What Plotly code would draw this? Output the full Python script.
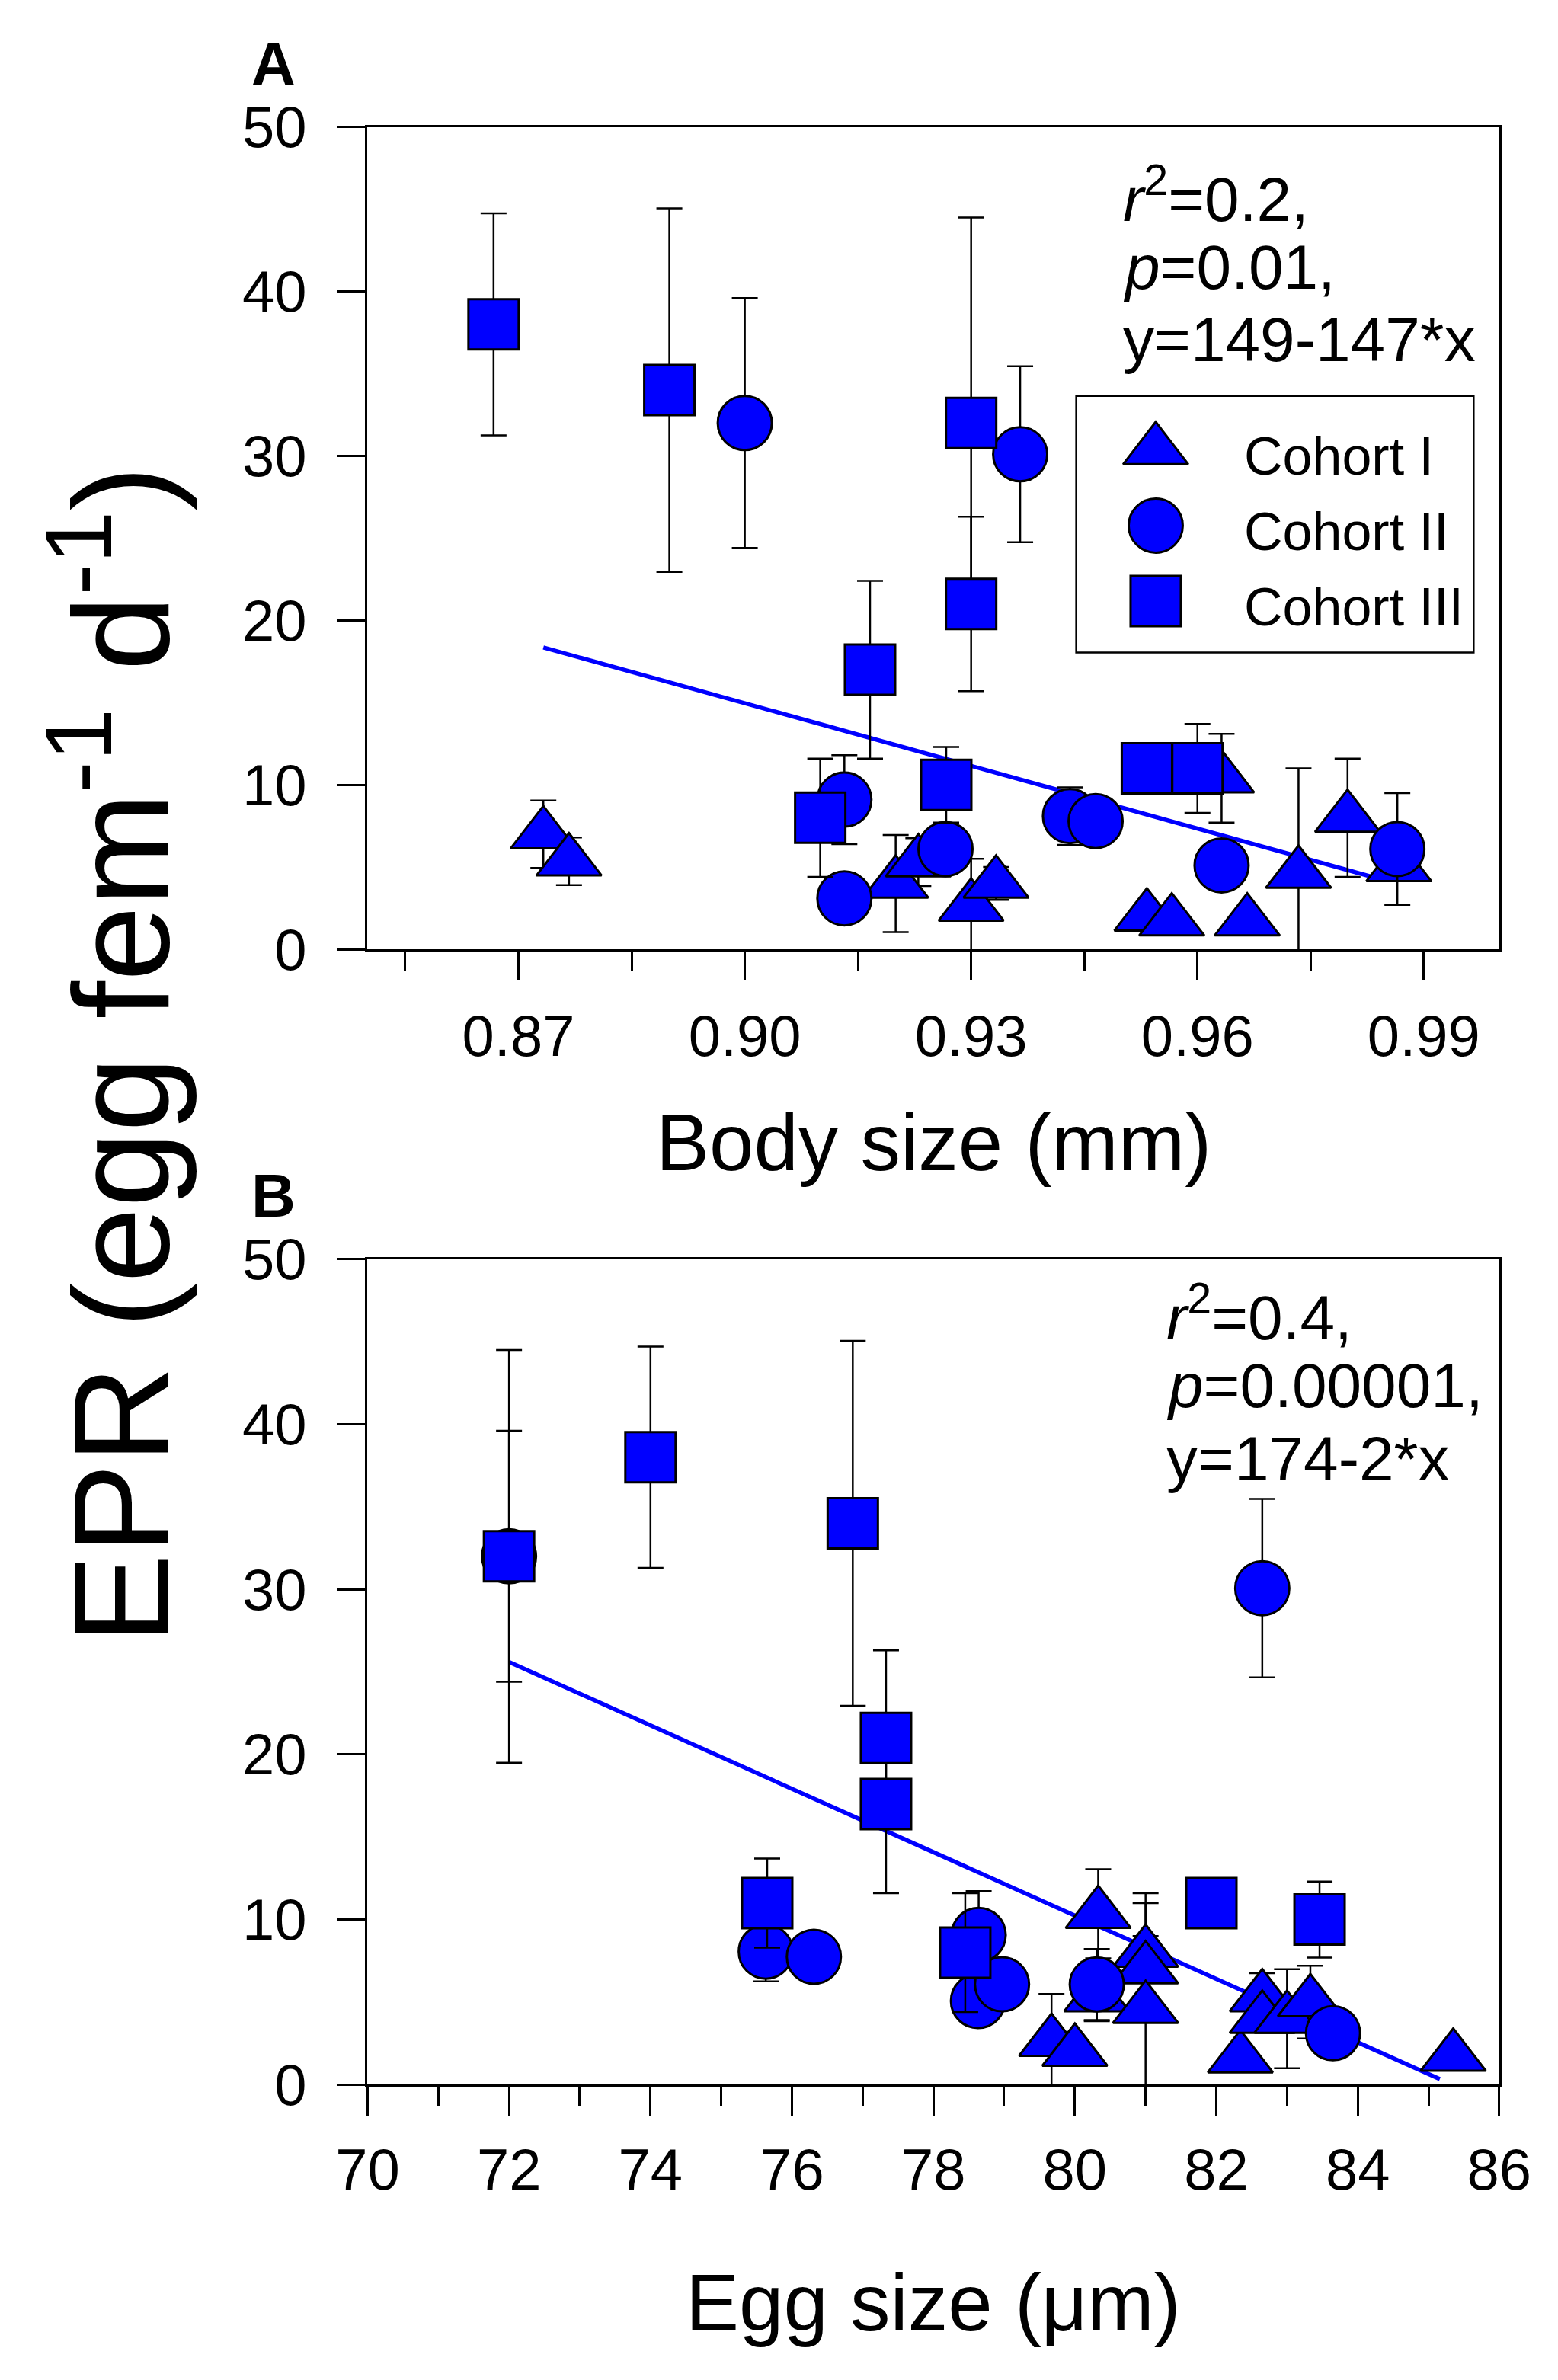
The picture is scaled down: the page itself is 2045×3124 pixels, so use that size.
import plotly.graph_objects as go

W, H = 2045, 3124
BLUE = "rgb(0,0,255)"
FONT = "Liberation Sans, Arial, sans-serif"

# ---- panel A: body size (mm) vs EPR ----
a_c1_x = [0.8733, 0.8767, 0.920, 0.923, 0.930, 0.9333, 0.9533, 0.9566, 0.9632, 0.9666, 0.9734, 0.9799, 0.9867]
a_c1_y = [7.0, 5.35, 4.0, 5.3, 2.6, 4.0, 2.0, 1.7, 10.4, 1.7, 4.6, 8.0, 5.0]
a_c1_e = [2.05, 1.45, 2.95, 1.45, 2.9, 1.0, 0, 0, 2.7, 0, 6.4, 3.6, 0]

a_c2_x = [0.900, 0.9132, 0.9132, 0.9266, 0.9365, 0.9431, 0.9465, 0.9632, 0.9865]
a_c2_y = [32.0, 9.1, 3.1, 6.1, 30.1, 8.1, 7.8, 5.1, 6.1]
a_c2_e = [7.6, 2.7, 0, 1.55, 5.35, 1.75, 0, 0, 3.4]

a_c3_x = [0.8667, 0.890, 0.910, 0.9166, 0.9267, 0.930, 0.930, 0.9533, 0.960]
a_c3_y = [38.0, 34.0, 8.0, 17.0, 10.0, 32.0, 21.0, 11.0, 11.0]
a_c3_e = [6.75, 11.05, 3.6, 5.4, 2.3, 12.5, 5.3, 0, 2.7]

a_fit_x = [0.8733, 0.9836]
a_fit_y = [18.35, 4.35]

# ---- panel B: egg size (um) vs EPR ----
b_c1_x = [79.67, 80.0, 80.33, 80.31, 81.0, 81.0, 81.0, 82.34, 82.65, 82.65, 83.0, 83.33, 85.35]
b_c1_y = [2.6, 2.0, 10.35, 5.3, 8.0, 7.0, 4.6, 1.6, 5.3, 4.0, 4.0, 5.0, 1.7]
b_c1_e = [2.9, 0, 2.7, 1.45, 3.6, 2.0, 6.4, 0, 1.45, 0, 3.0, 2.2, 0]

b_c2_x = [72.0, 82.65, 75.63, 76.31, 78.64, 78.63, 78.97, 80.31, 83.65]
b_c2_y = [32.0, 30.07, 8.06, 7.75, 9.07, 5.07, 6.08, 6.07, 3.12]
b_c2_e = [7.6, 5.4, 1.8, 0, 2.65, 0, 0, 2.15, 0]

b_c3_x = [72.0, 74.0, 76.86, 77.33, 77.33, 75.65, 78.45, 81.93, 83.46]
b_c3_y = [32.0, 38.0, 34.0, 21.0, 17.0, 11.0, 8.0, 11.0, 10.0]
b_c3_e = [12.5, 6.7, 11.05, 5.3, 5.4, 2.7, 3.6, 0, 2.3]

b_fit_x = [72.0, 85.16]
b_fit_y = [25.6, 0.34]

cohorts = ["Cohort I", "Cohort II", "Cohort III"]
symbols = ["triangle-up", "circle", "square"]
sizes = [74, 71, 66]

a_ticks = [0.87, 0.90, 0.93, 0.96, 0.99]
a_minor = [0.855, 0.885, 0.915, 0.945, 0.975]
b_ticks = [70, 72, 74, 76, 78, 80, 82, 84, 86]
b_minor = [71, 73, 75, 77, 79, 81, 83, 85]
y_ticks = [0, 10, 20, 30, 40, 50]

stats_a = ["<i>r</i><sup>2</sup>=0.2,", "<i>p</i>=0.01,", "y=149-147*x"]
stats_b = ["<i>r</i><sup>2</sup>=0.4,", "<i>p</i>=0.00001,", "y=174-2*x"]


def px(x):
    return x / W


def py(y):
    return 1 - y / H


fig = go.Figure()

panels = [
    ("x", "y", a_fit_x, a_fit_y, [(a_c1_x, a_c1_y, a_c1_e), (a_c2_x, a_c2_y, a_c2_e), (a_c3_x, a_c3_y, a_c3_e)]),
    ("x2", "y2", b_fit_x, b_fit_y, [(b_c1_x, b_c1_y, b_c1_e), (b_c2_x, b_c2_y, b_c2_e), (b_c3_x, b_c3_y, b_c3_e)]),
]
for xa, ya, fx, fy, groups in panels:
    fig.add_trace(go.Scatter(x=fx, y=fy, mode="lines", xaxis=xa, yaxis=ya,
                             line=dict(color=BLUE, width=5.5), showlegend=False))
    for (gx, gy, ge), sym, sz in zip(groups, symbols, sizes):
        fig.add_trace(go.Scatter(
            x=gx, y=gy, mode="markers", xaxis=xa, yaxis=ya, showlegend=False,
            marker=dict(symbol=sym, size=sz, color=BLUE, line=dict(color="black", width=3)),
            error_y=dict(type="data", array=ge, color="black", thickness=2.5, width=17),
        ))

# hand-made legend (plotly caps legend marker size)
for i, (name, sym, sz) in enumerate(zip(cohorts, symbols, sizes)):
    fig.add_trace(go.Scatter(
        x=[0.2], y=[i], mode="markers", xaxis="x3", yaxis="y3", showlegend=False,
        marker=dict(symbol=sym, size=sz, color=BLUE, line=dict(color="black", width=3)),
    ))
    fig.add_annotation(text=name, x=0.419, y=i + 0.08, xref="x3", yref="y3",
                       xanchor="left", yanchor="middle", showarrow=False,
                       font=dict(size=70, color="black", family=FONT))

ax_common = dict(showline=True, linecolor="black", linewidth=2.5, mirror=True,
                 ticks="outside", tickcolor="black", tickwidth=2.5, ticklen=38,
                 showgrid=False, zeroline=False,
                 tickfont=dict(size=76, color="black", family=FONT))

fig.update_layout(
    width=W, height=H, margin=dict(l=0, r=0, t=0, b=0),
    paper_bgcolor="white", plot_bgcolor="white", showlegend=False,
    xaxis=dict(domain=[px(451), px(2000)], range=[0.85, 1.0], anchor="y",
               tickvals=a_ticks, ticktext=["%.2f" % v for v in a_ticks], ticklabelstandoff=8,
               minor=dict(tickvals=a_minor, ticks="outside", ticklen=26, tickwidth=2.5, tickcolor="black"),
               **ax_common),
    yaxis=dict(domain=[py(1229.5), py(120)], range=[0, 50], anchor="x", tickvals=y_ticks,
               ticklabelstandoff=24, **ax_common),
    xaxis2=dict(domain=[px(451), px(2000)], range=[70, 86], anchor="y2", tickvals=b_ticks,
                ticklabelstandoff=6,
                minor=dict(tickvals=b_minor, ticks="outside", ticklen=26, tickwidth=2.5, tickcolor="black"),
                **ax_common),
    yaxis2=dict(domain=[py(2761.5), py(1647.5)], range=[0, 50], anchor="x2", tickvals=y_ticks,
                ticklabelstandoff=24, **ax_common),
    xaxis3=dict(domain=[px(1421), px(1965)], range=[0, 1], visible=False, anchor="y3"),
    yaxis3=dict(domain=[py(829), py(483)], range=[2.68, -0.716], visible=False, anchor="x3"),
)

# legend frame
fig.add_shape(type="rect", xref="paper", yref="paper",
              x0=px(1421), x1=px(1965), y0=py(829), y1=py(483),
              line=dict(color="black", width=2.5), fillcolor="rgba(0,0,0,0)")

# regression stats
for lines, x0, base0 in [(stats_a, 1483, 239.5), (stats_b, 1542, 1749)]:
    for k, t in enumerate(lines):
        fig.add_annotation(text=t, x=px(x0), y=py(base0 + 98 * k - 0.35 * 82),
                           xref="paper", yref="paper", xanchor="left", yanchor="middle",
                           showarrow=False, font=dict(size=82, color="black", family=FONT))

# axis titles
fig.add_annotation(text="Body size (mm)", x=px(1226), y=py(1527 - 0.35 * 105), xref="paper", yref="paper",
                   xanchor="center", yanchor="middle", showarrow=False,
                   font=dict(size=105, color="black", family=FONT))
fig.add_annotation(text="Egg size (\u03bcm)", x=px(1225), y=py(3092 - 0.35 * 105), xref="paper", yref="paper",
                   xanchor="center", yanchor="middle", showarrow=False,
                   font=dict(size=105, color="black", family=FONT))
fig.add_annotation(text="EPR (egg fem<sup>-1</sup> d<sup>-1</sup>)", x=px(100), y=py(1372),
                   xref="paper", yref="paper", xanchor="center", yanchor="middle",
                   textangle=-90, showarrow=False,
                   font=dict(size=178, color="black", family=FONT))

# panel letters
for lab, base in [("A", 62.5), ("B", 1590)]:
    fig.add_annotation(text="<b>%s</b>" % lab, x=px(322), y=py(base - 0.35 * 80), xref="paper", yref="paper",
                       xanchor="center", yanchor="middle", showarrow=False,
                       font=dict(size=80, color="black", family=FONT))

fig.write_html("out.html")
